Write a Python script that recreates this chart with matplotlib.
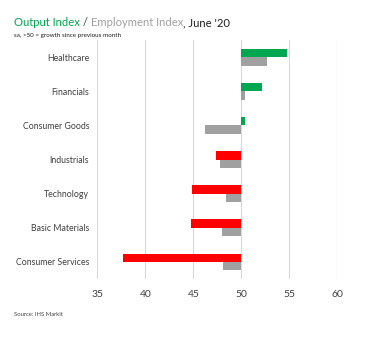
import matplotlib.pyplot as plt
import numpy as np

plt.rcParams['font.family'] = ['Lato', 'DejaVu Sans']

sectors = ["Healthcare", "Financials", "Consumer Goods", "Industrials",
           "Technology", "Basic Materials", "Consumer Services"]
output_index = [54.7, 52.1, 50.4, 47.4, 44.9, 44.8, 37.7]
employment_index = [52.7, 50.4, 46.2, 47.8, 48.4, 48.0, 48.1]

GREEN = "#00a650"
RED = "#ff0000"
GREY = "#a0a0a0"
TEXT = "#404040"

fig = plt.figure(figsize=(3.66, 3.37), dpi=100)
ax = fig.add_axes([0.266, 0.172, 0.656, 0.709])

y = np.arange(len(sectors))
h = 0.245
out_colors = [GREEN if v >= 50 else RED for v in output_index]
ax.barh(y - h / 2, np.array(output_index) - 50, left=50, height=h, color=out_colors, zorder=3)
ax.barh(y + h / 2, np.array(employment_index) - 50, left=50, height=h, color=GREY, zorder=3)

ax.set_xlim(35, 60)
ax.set_ylim(len(sectors) - 0.5, -0.5)
ax.set_xticks(range(35, 61, 5))
ax.set_yticks(y)
ax.set_yticklabels(sectors)
ax.tick_params(axis='y', length=0, pad=6, labelsize=6.3, labelcolor=TEXT)
ax.tick_params(axis='x', length=0, pad=8, labelsize=7.5, labelcolor=TEXT)
ax.grid(axis='x', color="#d9d9d9", lw=0.8, zorder=0)
for s in ax.spines.values():
    s.set_visible(False)

# title pieces in different colours, laid out left to right
renderer = fig.canvas.get_renderer()
x0 = 14 / 366
parts = [("Output Index", GREEN), (" / ", TEXT), ("Employment Index", GREY), (", June '20", "#202020")]
for txt, col in parts:
    t = fig.text(x0, 1 - 23 / 337, txt, color=col, fontsize=8.1, va='center', ha='left')
    bb = t.get_window_extent(renderer)
    x0 += bb.width / fig.bbox.width

fig.text(14 / 366, 1 - 35 / 337, "sa, >50 = growth since previous month",
         fontsize=4.5, color="#202020", va='center')
fig.text(14 / 366, 1 - 314 / 337, "Source: IHS Markit",
         fontsize=4.2, color=TEXT, va='center')

fig.savefig("out.png", dpi=100)
